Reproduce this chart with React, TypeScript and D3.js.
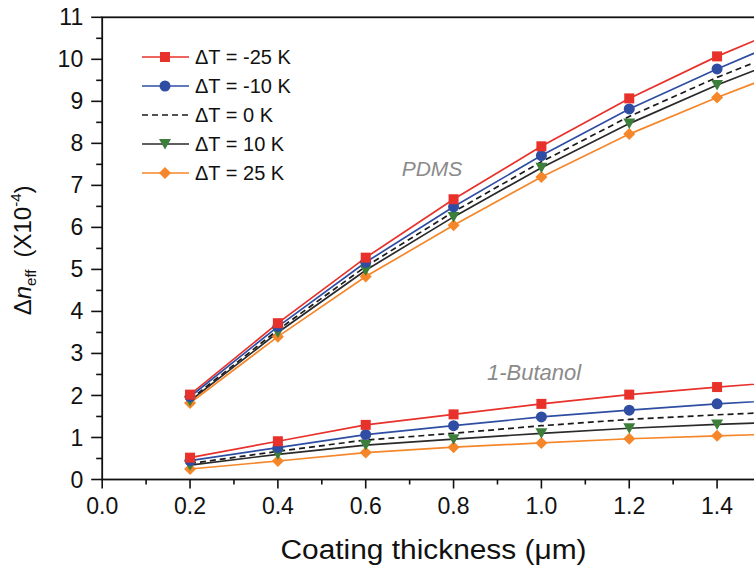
import React from "react";
import * as d3 from "d3";

const thickness = [0.2, 0.4, 0.6, 0.8, 1.0, 1.2, 1.4, 1.6];

const seriesLabels = ["ΔT = -25 K", "ΔT = -10 K", "ΔT = 0 K", "ΔT = 10 K", "ΔT = 25 K"];

const pdmsM25 = [2.02, 3.72, 5.28, 6.67, 7.93, 9.07, 10.07, 10.95];
const pdmsM10 = [1.97, 3.64, 5.17, 6.49, 7.71, 8.82, 9.77, 10.66];
const pdms0 = [1.9, 3.56, 5.07, 6.37, 7.56, 8.64, 9.57, 10.4];
const pdmsP10 = [1.87, 3.5, 4.98, 6.25, 7.42, 8.47, 9.39, 10.2];
const pdmsP25 = [1.82, 3.4, 4.83, 6.05, 7.2, 8.22, 9.09, 9.9];

const butM25 = [0.52, 0.91, 1.3, 1.55, 1.8, 2.02, 2.2, 2.36];
const butM10 = [0.45, 0.76, 1.07, 1.28, 1.49, 1.65, 1.8, 1.92];
const but0 = [0.38, 0.67, 0.94, 1.1, 1.28, 1.43, 1.54, 1.63];
const butP10 = [0.34, 0.6, 0.82, 0.96, 1.1, 1.22, 1.31, 1.38];
const butP25 = [0.25, 0.44, 0.64, 0.77, 0.87, 0.97, 1.04, 1.1];

const xTicks = [0, 0.2, 0.4, 0.6, 0.8, 1.0, 1.2, 1.4];
const yTicks = [0, 1, 2, 3, 4, 5, 6, 7, 8, 9, 10, 11];

type Style = { line: string; marker: string | null; shape: string; dash: string | null };
const styles: Style[] = [
  { line: "#e8312a", marker: "#e8312a", shape: "square", dash: null },
  { line: "#2f4ea3", marker: "#2f4ea3", shape: "circle", dash: null },
  { line: "#1a1a1a", marker: null, shape: "none", dash: "6,4" },
  { line: "#2a2a2a", marker: "#3b7f3a", shape: "tri", dash: null },
  { line: "#f5862a", marker: "#f5862a", shape: "diamond", dash: null },
];

const pdmsSeries = [pdmsM25, pdmsM10, pdms0, pdmsP10, pdmsP25];
const butSeries = [butM25, butM10, but0, butP10, butP25];

const W = 754;
const H = 573;
const FONT = "'Liberation Sans', Arial, sans-serif";

function Marker({ shape, x, y, color }: { shape: string; x: number; y: number; color: string | null }) {
  if (!color) return null;
  if (shape === "square") return <rect x={x - 5} y={y - 5} width={10} height={10} fill={color} />;
  if (shape === "circle") return <circle cx={x} cy={y} r={5.5} fill={color} />;
  if (shape === "tri")
    return <path d={`M${x - 6},${y - 5}L${x + 6},${y - 5}L${x},${y + 5.5}Z`} fill={color} />;
  if (shape === "diamond")
    return <path d={`M${x},${y - 6}L${x + 6},${y}L${x},${y + 6}L${x - 6},${y}Z`} fill={color} />;
  return null;
}

export default function App() {
  const x = d3.scaleLinear().domain([0, 1.6]).range([102.2, 102.2 + 1.6 * 439.2]);
  const y = d3.scaleLinear().domain([0, 11]).range([479.5, 17.3]);
  const line = d3
    .line<number>()
    .x((_, i) => x(thickness[i]))
    .y((d) => y(d));

  const xMinor = d3.range(0.1, 1.5, 0.2);
  const yMinor = d3.range(0.5, 11, 1);

  const legendX = 142;
  const legendY0 = 57;
  const legendDy = 29;

  return (
    <div style={{ position: "fixed", left: 0, top: 0 }}>
      <svg width={W} height={H} style={{ display: "block", background: "#fff" }} fontFamily={FONT}>
        <defs>
          <clipPath id="plot">
            <rect x={x(0)} y={y(11)} width={x(1.6) - x(0)} height={y(0) - y(11)} />
          </clipPath>
        </defs>
        {/* series */}
        <g clipPath="url(#plot)">
          {[pdmsSeries, butSeries].map((group, gi) =>
            group.map((vals, si) => (
              <path
                key={`l${gi}-${si}`}
                d={line(vals) || ""}
                fill="none"
                stroke={styles[si].line}
                strokeWidth={1.7}
                strokeDasharray={styles[si].dash || undefined}
              />
            ))
          )}
        </g>
        {[pdmsSeries, butSeries].map((group, gi) =>
          [4, 3, 2, 1, 0].map((si) =>
            group[si].map((v, i) => (
              <Marker key={`m${gi}-${si}-${i}`} shape={styles[si].shape} x={x(thickness[i])} y={y(v)} color={styles[si].marker} />
            ))
          )
        )}
        {/* frame */}
        <rect x={x(0)} y={y(11)} width={x(1.6) - x(0)} height={y(0) - y(11)} fill="none" stroke="#111" strokeWidth={1.8} />
        {/* y ticks */}
        {yTicks.map((t) => (
          <g key={`yt${t}`}>
            <line x1={x(0) - 11} x2={x(0)} y1={y(t)} y2={y(t)} stroke="#111" strokeWidth={1.6} />
            <text x={x(0) - 19} y={y(t)} dy="0.35em" textAnchor="end" fontSize={23} fill="#111">
              {t}
            </text>
          </g>
        ))}
        {yMinor.map((t) => (
          <line key={`ym${t}`} x1={x(0) - 6} x2={x(0)} y1={y(t)} y2={y(t)} stroke="#111" strokeWidth={1.6} />
        ))}
        {/* x ticks */}
        {xTicks.map((t) => (
          <g key={`xt${t}`}>
            <line x1={x(t)} x2={x(t)} y1={y(0)} y2={y(0) + 9} stroke="#111" strokeWidth={1.6} />
            <text x={x(t)} y={514} textAnchor="middle" fontSize={23} fill="#111">
              {d3.format(".1f")(t)}
            </text>
          </g>
        ))}
        {xMinor.map((t) => (
          <line key={`xm${t}`} x1={x(t)} x2={x(t)} y1={y(0)} y2={y(0) + 5} stroke="#111" strokeWidth={1.6} />
        ))}
        {/* axis titles */}
        <text x={433.5} y={559} textAnchor="middle" fontSize={27} fill="#111" textLength={306} lengthAdjust="spacingAndGlyphs">
          Coating thickness (μm)
        </text>
        <text transform={`translate(31,${(y(0) + y(11)) / 2 + 2}) rotate(-90)`} textAnchor="middle" fontSize={24} fill="#111">
          Δ<tspan fontStyle="italic">n</tspan>
          <tspan fontSize={15} dy={5}>eff</tspan>
          <tspan dy={-5} dx={12}>(X10</tspan>
          <tspan fontSize={15} dy={-10}>-4</tspan>
          <tspan dy={10}>)</tspan>
        </text>
        {/* annotations */}
        <text x={432} y={176} textAnchor="middle" fontSize={21} fontStyle="italic" fill="#8a8a8a">
          PDMS
        </text>
        <text x={534} y={380} textAnchor="middle" fontSize={22} fontStyle="italic" fill="#8a8a8a">
          1-Butanol
        </text>
        {/* legend */}
        {seriesLabels.map((lab, i) => {
          const ly = legendY0 + i * legendDy;
          return (
            <g key={`lg${i}`}>
              <line
                x1={legendX}
                x2={legendX + 47}
                y1={ly}
                y2={ly}
                stroke={styles[i].line}
                strokeWidth={1.7}
                strokeDasharray={styles[i].dash || undefined}
              />
              <Marker shape={styles[i].shape} x={legendX + 23} y={ly} color={styles[i].marker} />
              <text x={195} y={ly} dy="0.36em" fontSize={20} fill="#111">
                {lab}
              </text>
            </g>
          );
        })}
      </svg>
    </div>
  );
}
